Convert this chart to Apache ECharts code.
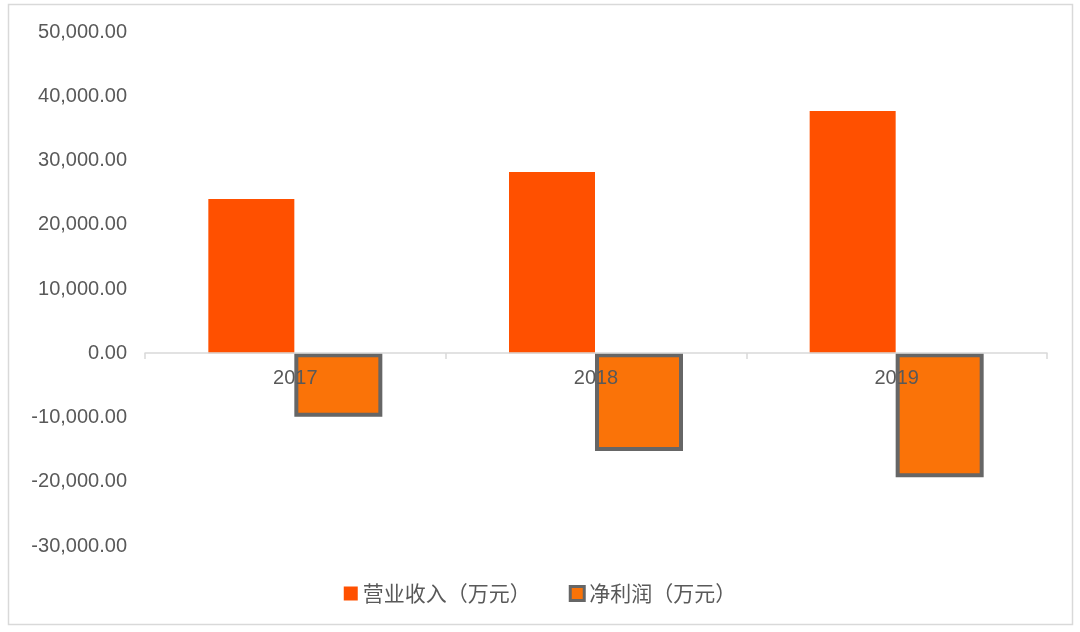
<!DOCTYPE html>
<html>
<head>
<meta charset="utf-8">
<script src="https://cdn.jsdelivr.net/npm/echarts@6/dist/echarts.min.js"></script>
<style>
html,body{margin:0;padding:0;background:#fff;}
#chart{width:1080px;height:632px;}
</style>
</head>
<body>
<div id="chart"></div>
<script>
const categories = ['2017', '2018', '2019'];
const revenue = [24000, 28200, 37700];
const netProfit = [-9900, -15200, -19300];
const seriesNames = ['营业收入（万元）', '净利润（万元）'];

const chart = echarts.init(document.getElementById('chart'));
const fontFamily = '"Liberation Sans", Arial, "Noto Sans CJK SC", sans-serif';

chart.setOption({
  backgroundColor: '#ffffff',
  animation: false,
  graphic: [{
    type: 'rect',
    shape: { x: 8.5, y: 4.5, width: 1064, height: 620 },
    style: { fill: 'none', stroke: '#d9d9d9', lineWidth: 1.5 },
    silent: true,
    z: -1
  }],
  grid: { left: 145, right: 33, top: 32, bottom: 86 },
  legend: {
    bottom: 23,
    left: 'center',
    itemGap: 38,
    itemWidth: 14,
    itemHeight: 14,
    textStyle: { fontSize: 21, color: '#595959', fontFamily: '"Noto Sans CJK SC", sans-serif' },
    data: [
      { name: seriesNames[0], icon: 'rect', itemStyle: { color: '#FF5000', borderWidth: 0 }, itemWidth: 10, itemHeight: 10 },
      { name: seriesNames[1], icon: 'rect', itemStyle: { color: '#FA7308', borderColor: '#666666', borderWidth: 3 } }
    ]
  },
  xAxis: {
    type: 'category',
    data: categories,
    z: 10,
    offset: -193,
    axisLine: { onZero: false, lineStyle: { color: '#d9d9d9', width: 1.5 } },
    axisTick: { show: true, alignWithLabel: false, length: 6, lineStyle: { color: '#d9d9d9', width: 1.5 } },
    axisLabel: { fontSize: 20, color: '#595959', margin: 15, fontFamily: fontFamily }
  },
  yAxis: {
    type: 'value',
    min: -30000,
    max: 50000,
    interval: 10000,
    axisLine: { show: false },
    axisTick: { show: false },
    splitLine: { show: false },
    axisLabel: {
      fontSize: 20,
      color: '#595959',
      margin: 18,
      fontFamily: fontFamily,
      formatter: v => v.toLocaleString('en-US', { minimumFractionDigits: 2, maximumFractionDigits: 2 })
    }
  },
  series: [
    {
      name: seriesNames[0],
      type: 'bar',
      data: revenue,
      barWidth: 86,
      barGap: '0%',
      itemStyle: { color: '#FF5000' }
    },
    {
      name: seriesNames[1],
      type: 'bar',
      data: netProfit,
      barWidth: 88,
      barGap: '0%',
      itemStyle: { color: '#FA7308', borderColor: '#666666', borderWidth: 4 }
    }
  ]
});
</script>
</body>
</html>
